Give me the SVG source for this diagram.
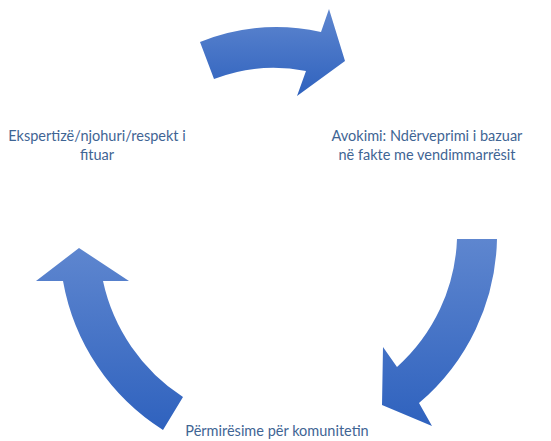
<svg xmlns="http://www.w3.org/2000/svg" width="551" height="441" viewBox="0 0 551 441">
<defs>
<linearGradient id="g" x1="0" y1="0" x2="0" y2="1">
<stop offset="0" stop-color="#5E86CF"/>
<stop offset="1" stop-color="#2F62BE"/>
</linearGradient>
<style>
.arrow{fill:url(#g);stroke:none}
.t{font-family:Lato,"Liberation Sans",sans-serif;font-size:14.5px;fill:#3F6594;text-anchor:middle}
</style>
</defs>
<rect width="551" height="441" fill="#fff"/>
<g id="connectors">
<path id="arrow-top" class="arrow" d="M200,42 A207,207 0 0 1 321,32 L329,9 L345,61 L297,96 L306,71 A167,167 0 0 0 214,79 Z"/>
<path id="arrow-right" class="arrow" d="M497,239 A221,221 0 0 1 419,403 L432,426 L382,405 L383,347 L397,367 A181,181 0 0 0 457,239 Z"/>
<path id="arrow-left" class="arrow" d="M183,397 A185,185 0 0 1 103,281 L129,281 L79,248 L36,281 L63,281 A222,222 0 0 0 163,430 Z"/>
</g>
<g id="node-left">
<text class="t" x="97" y="141">Ekspertizë/njohuri/respekt i</text>
<text class="t" x="97" y="160">fituar</text>
</g>
<g id="node-right">
<text class="t" x="427" y="141">Avokimi: Ndërveprimi i bazuar</text>
<text class="t" x="427" y="160">në fakte me vendimmarrësit</text>
</g>
<g id="node-bottom">
<text class="t" x="277" y="436">Përmirësime për komunitetin</text>
</g>
</svg>
